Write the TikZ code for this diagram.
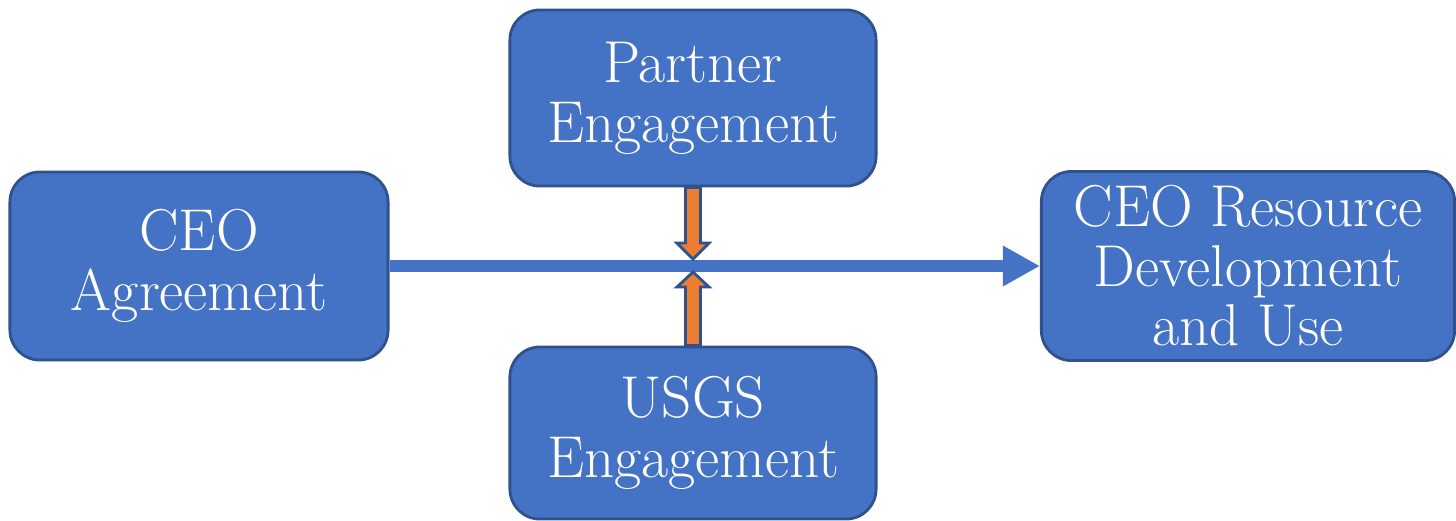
\documentclass[tikz,border=0pt]{standalone}
\usetikzlibrary{positioning,arrows.meta,calc}

\definecolor{boxblue}{HTML}{4472C4}
\definecolor{boxedge}{HTML}{2F528F}
\definecolor{feedorange}{HTML}{ED7D31}

\begin{document}
\begin{tikzpicture}[
      x=0.01cm, y=-0.01cm,
      >=Stealth,
      box/.style={draw=boxedge, fill=boxblue, line width=0.8pt,
                  rounded corners=0.3cm, align=center, text=white,
                  font=\fontsize{16.8}{17}\selectfont, inner sep=0pt},
      flow/.style={-{Triangle[length=0.37cm,width=0.38cm]},
                   draw=boxblue, line width=0.12cm},
      feed/.style={draw=boxedge, fill=feedorange, line width=0.8pt,
                   line join=miter}
    ]
    \useasboundingbox (0,0) rectangle (1456,520);

    % Main components
    \node[box, minimum width=3.78cm, minimum height=1.88cm]
          (agree) at (199,266) {CEO\\Agreement};
    \node[box, minimum width=4.13cm, minimum height=1.89cm]
          (resource) at (1248,266) {CEO Resource\\Development\\and Use};

    % Engagement components
    \node[box, minimum width=3.66cm, minimum height=1.76cm]
          (partner) at (693,98) {Partner\\Engagement};
    \node[box, minimum width=3.66cm, minimum height=1.72cm]
          (usgs) at (693,433) {USGS\\Engagement};

    % Main flow
    \draw[flow] (agree) -- (resource);
    \coordinate (hub) at (agree.east -| partner.south);

    % Engagement feeds
    \draw[feed] ($(partner.south)+(-7.5,0)$) -- ($(hub)+(-7.5,-23)$)
      -- ($(hub)+(-16,-23)$) -- ($(hub)+(0,-7)$) -- ($(hub)+(16,-23)$)
      -- ($(hub)+(7.5,-23)$) -- ($(partner.south)+(7.5,0)$) -- cycle;
    \draw[feed] ($(usgs.north)+(-7.5,0)$) -- ($(hub)+(-7.5,21)$)
      -- ($(hub)+(-16,21)$) -- ($(hub)+(0,6)$) -- ($(hub)+(16,21)$)
      -- ($(hub)+(7.5,21)$) -- ($(usgs.north)+(7.5,0)$) -- cycle;

  \end{tikzpicture}
\end{document}
